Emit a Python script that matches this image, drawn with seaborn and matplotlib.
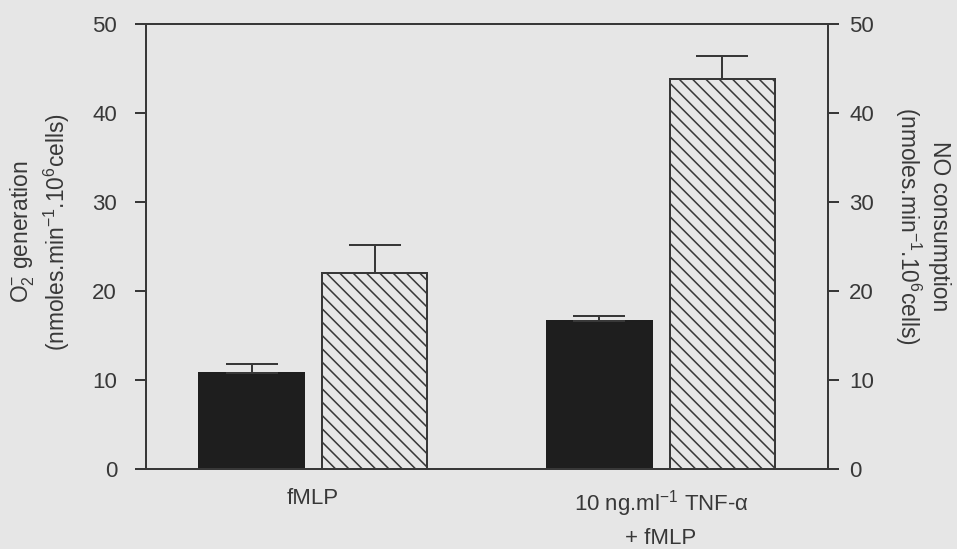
import matplotlib
matplotlib.use("Agg")
import matplotlib.pyplot as plt
import numpy as np
import pandas as pd
import seaborn as sns

# Data: rates (nmoles.min-1.10^6 cells), mean and upper error
stimuli = ["fMLP", "10 ng.ml$^{-1}$ TNF-α\n+ fMLP"]
measures = ["O2 generation", "NO consumption"]
o2_mean = [10.8, 16.6]
o2_err = [1.0, 0.6]
no_mean = [22.0, 43.8]
no_err = [3.2, 2.6]
y_ticks = [0, 10, 20, 30, 40, 50]

BG = "#e6e6e6"
INK = "#383838"
BLACK = "#1e1e1e"

sns.set_style("white")
plt.rcParams["font.family"] = ["Liberation Sans", "DejaVu Sans"]
plt.rcParams["mathtext.fontset"] = "custom"
plt.rcParams["mathtext.rm"] = "Liberation Sans"
plt.rcParams["mathtext.it"] = "Liberation Sans:italic"
plt.rcParams["mathtext.bf"] = "Liberation Sans:bold"
plt.rcParams["hatch.linewidth"] = 1.4
plt.rcParams["hatch.color"] = INK

df = pd.DataFrame({
    "stimulus": stimuli * 2,
    "measure": [measures[0]] * 2 + [measures[1]] * 2,
    "rate": o2_mean + no_mean,
    "err": o2_err + no_err,
})

DPI = 80
fig = plt.figure(figsize=(957 / DPI, 549 / DPI), dpi=DPI, facecolor=BG)
ax = fig.add_axes([146 / 957, 1 - 469 / 549, (828 - 146) / 957, (469 - 24) / 549])
ax.set_facecolor(BG)

sns.barplot(data=df, x="stimulus", y="rate", hue="measure",
            palette={measures[0]: BLACK, measures[1]: BG},
            width=0.707, gap=0.15, legend=False, ax=ax,
            edgecolor=INK, linewidth=1.8, errorbar=None)

# style bars and add upper-only error bars
for i, (cont, means, errs) in enumerate(zip(ax.containers, [o2_mean, no_mean], [o2_err, no_err])):
    for bar, m, e in zip(cont, means, errs):
        if i == 1:
            bar.set_hatch("\\\\")
            bar.set_edgecolor(INK)
        else:
            bar.set_edgecolor(BLACK)
        xc = bar.get_x() + bar.get_width() / 2
        ax.errorbar([xc], [m], yerr=[[0], [e]], fmt="none", ecolor=INK,
                    elinewidth=1.8, capsize=23.4, capthick=1.8, zorder=1)

ax.set_xlim(-0.48, 1.48)
ax.set_ylim(0, 50)
ax.set_yticks(y_ticks)
ax.set_xlabel("")
ax.set_ylabel("")
for s in ax.spines.values():
    s.set_visible(True)
    s.set_color(INK)
    s.set_linewidth(1.8)
ax.tick_params(axis="y", direction="out", length=10, width=1.8, color=INK,
               pad=16, labelsize=20, labelcolor=INK, left=True)
ax.tick_params(axis="x", length=0, pad=17, labelsize=20, labelcolor=INK)
for lbl in ax.get_xticklabels():
    lbl.set_linespacing(1.55)

ax2 = ax.twinx()
ax2.set_ylim(0, 50)
ax2.set_yticks(y_ticks)
for s in ax2.spines.values():
    s.set_visible(False)
ax2.tick_params(axis="y", direction="out", length=10, width=1.8, color=INK,
                pad=9, labelsize=20, labelcolor=INK, right=True)

fig.text(40 / 957, 1 - 232 / 549,
         "O$_2^{-}$ generation\n(nmoles.min$^{-1}$.10$^{6}$cells)",
         rotation=90, ha="center", va="center", multialignment="center",
         fontsize=20.5, color=INK)
fig.text(922 / 957, 1 - 226 / 549,
         "NO consumption\n(nmoles.min$^{-1}$.10$^{6}$cells)",
         rotation=270, ha="center", va="center", multialignment="center",
         fontsize=20.5, color=INK)

fig.savefig("out.png", dpi=DPI, facecolor=BG)
